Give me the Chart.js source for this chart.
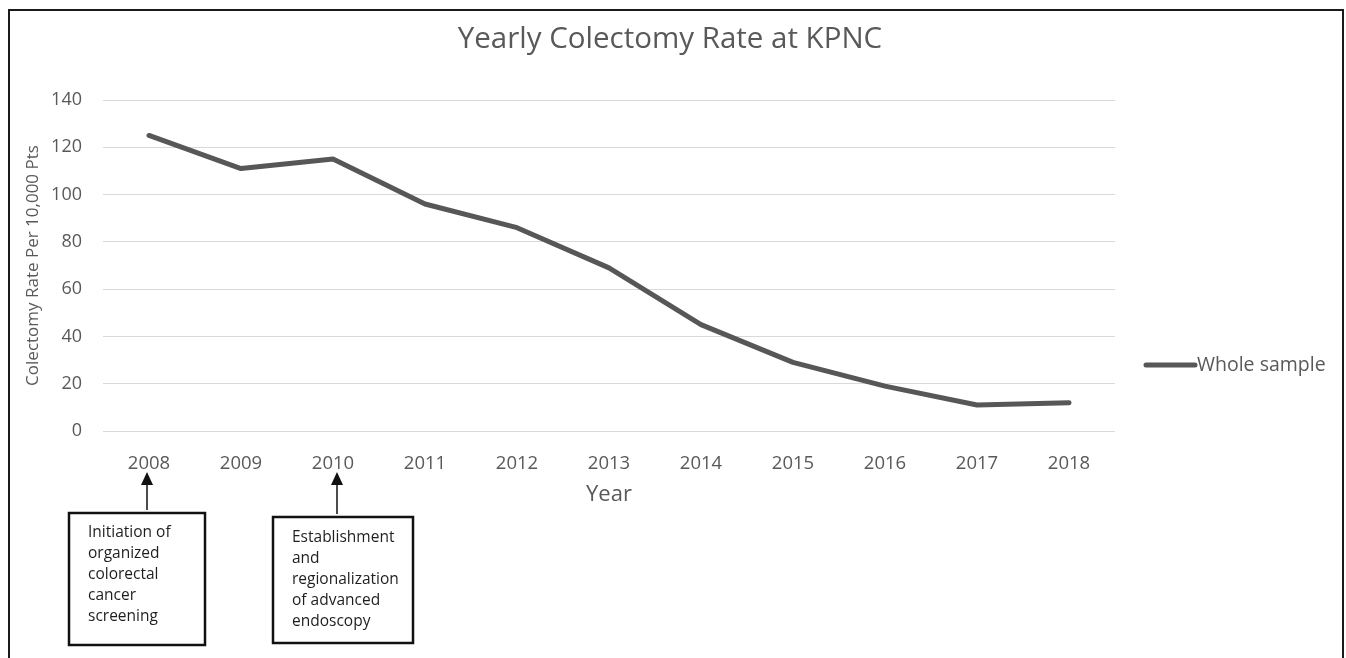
<!DOCTYPE html>
<html>
<head>
<meta charset="utf-8">
<script src="https://cdn.jsdelivr.net/npm/chart.js@4.4.1/dist/chart.umd.min.js"></script>
<style>
  html, body { margin: 0; padding: 0; background: #fff; overflow: hidden; }
  #frame { position: absolute; left: 8px; top: 9px; width: 1332px; height: 700px; border: 2px solid #1a1a1a; border-bottom: none; }
  #lineChart { position: absolute; left: 0; top: 0; }
</style>
</head>
<body>
<div id="frame"></div>
<canvas id="lineChart" width="1346" height="658"></canvas>
<script>
var years = ['2008', '2009', '2010', '2011', '2012', '2013', '2014', '2015', '2016', '2017', '2018'];
var rates = [125, 111, 115, 96, 86, 69, 45, 29, 19, 11, 12];
var yTicks = [0, 20, 40, 60, 80, 100, 120, 140];
var noteYears = ['2008', '2010'];
var noteTexts = [
    ['Initiation of', 'organized', 'colorectal', 'cancer', 'screening'],
    ['Establishment', 'and', 'regionalization', 'of advanced', 'endoscopy']
];

var textColor = '#595959';
var lineColor = '#575757';
var fontName = "'Open Sans', sans-serif";

// title, legend and the two notes under the axis
var extras = {
    id: 'extras',
    afterDraw: function (chart) {
        var c = chart.ctx;
        var xs = chart.scales.x;
        c.save();

        c.fillStyle = textColor;
        c.font = '29.5px ' + fontName;
        c.textAlign = 'center';
        c.textBaseline = 'middle';
        c.fillText('Yearly Colectomy Rate at KPNC', 670, 40);

        c.strokeStyle = lineColor;
        c.lineWidth = 5;
        c.lineCap = 'round';
        c.beginPath();
        c.moveTo(1146, 365);
        c.lineTo(1195, 365);
        c.stroke();
        c.font = '19.5px ' + fontName;
        c.textAlign = 'left';
        c.fillText(chart.data.datasets[0].label, 1197, 365);

        var boxes = [{ ax: -2, dx: -80, top: 513, w: 136, h: 132, tx: -61, ty: 533 },
                     { ax: 4, dx: -60, top: 517, w: 140, h: 126, tx: -41, ty: 538 }];
        noteYears.forEach(function (yr, i) {
            var x = Math.round(xs.getPixelForValue(years.indexOf(yr)));
            var b = boxes[i];
            var ax = x + b.ax;
            c.strokeStyle = '#111';
            c.fillStyle = '#111';
            c.lineWidth = 1.5;
            c.lineCap = 'butt';
            c.beginPath();
            c.moveTo(ax, b.top - 3);
            c.lineTo(ax, 484);
            c.stroke();
            c.beginPath();
            c.moveTo(ax, 472);
            c.lineTo(ax - 6, 485);
            c.lineTo(ax + 6, 485);
            c.closePath();
            c.fill();

            c.lineWidth = 2.5;
            c.strokeRect(x + b.dx, b.top, b.w, b.h);

            c.fillStyle = '#1e1e1e';
            c.font = '15.5px ' + fontName;
            c.textAlign = 'left';
            c.textBaseline = 'middle';
            noteTexts[i].forEach(function (t, j) {
                c.fillText(t, x + b.tx, b.ty + j * 21);
            });
        });
        c.restore();
    }
};

var ctx = document.getElementById('lineChart').getContext('2d');
var myChart = new Chart(ctx, {
    type: 'line',
    data: {
        labels: years,
        datasets: [{
            label: 'Whole sample',
            data: rates,
            borderColor: lineColor,
            borderWidth: 5,
            borderCapStyle: 'round',
            borderJoinStyle: 'round',
            pointRadius: 0,
            tension: 0,
            fill: false
        }]
    },
    options: {
        responsive: false,
        animation: false,
        layout: { padding: { top: 100, right: 231, bottom: 150, left: 0 } },
        plugins: {
            legend: { display: false },
            title: { display: false },
            tooltip: { enabled: false }
        },
        scales: {
            x: {
                offset: true,
                grid: { display: false },
                border: { display: false },
                ticks: { color: textColor, font: { family: fontName, size: 18.5 }, padding: 14, maxRotation: 0 },
                title: { display: true, text: 'Year', color: textColor, font: { family: fontName, size: 22 }, padding: 0 },
                afterFit: function (s) { s.height = 77; }
            },
            y: {
                min: 0,
                max: 140,
                grid: { color: '#d9d9d9', lineWidth: 1, drawTicks: false },
                border: { display: false },
                ticks: { color: textColor, font: { family: fontName, size: 18 }, padding: 21 },
                afterBuildTicks: function (s) { s.ticks = yTicks.map(function (v) { return { value: v }; }); },
                title: { display: true, text: 'Colectomy Rate Per 10,000 Pts', color: textColor, font: { family: fontName, size: 17 }, padding: { top: 23, bottom: 0 } },
                afterFit: function (s) { s.width = 103; }
            }
        }
    },
    plugins: [extras]
});
</script>
</body>
</html>
